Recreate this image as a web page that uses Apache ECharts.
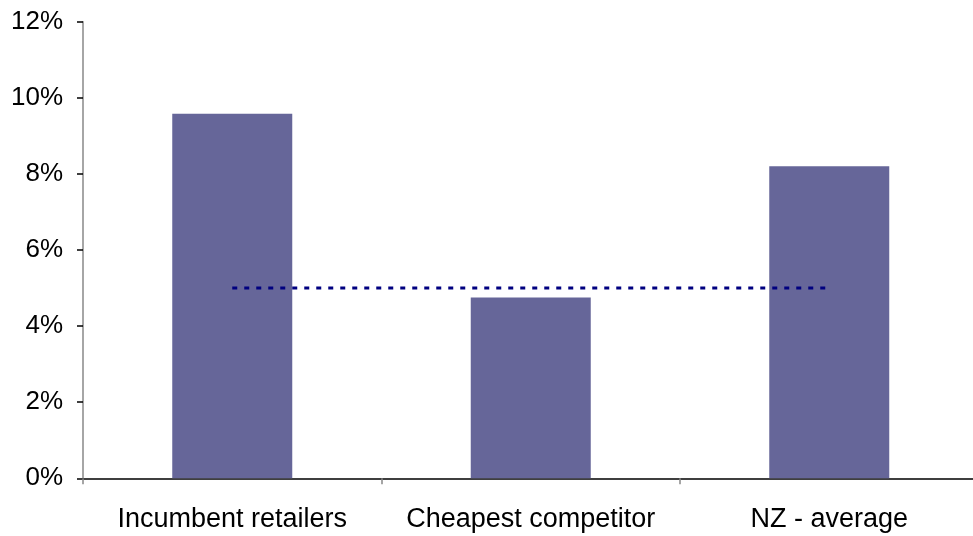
<!DOCTYPE html>
<html><head><meta charset="utf-8">
<script src="https://cdn.jsdelivr.net/npm/echarts@6/dist/echarts.min.js"></script>
<style>html,body{margin:0;padding:0;background:#fff;overflow:hidden}#c{width:979px;height:536px}</style>
</head><body><div id="c"></div>
<script>
var categories = ['Incumbent retailers', 'Cheapest competitor', 'NZ - average'];
var barValues = [9.58, 4.75, 8.2];
var avgLine = [5.0, 5.0, 5.0];
var yTicks = { min: 0, max: 12, interval: 2 };

var chart = echarts.init(document.getElementById('c'), null, { renderer: 'canvas' });
chart.setOption({
  animation: false,
  backgroundColor: '#fff',
  grid: { left: 83, right: 0.5, top: 21.7, bottom: 57.7, containLabel: false },
  xAxis: {
    type: 'category', data: categories,
    axisLine: { lineStyle: { color: '#000', width: 1.5 } },
    axisTick: { show: true, length: 6, inside: false, lineStyle: { color: '#888', width: 1.5 } },
    axisLabel: { color: '#000', fontFamily: 'Liberation Sans, Arial', fontSize: 27, margin: 28, interval: 0 },
    splitLine: { show: false }
  },
  yAxis: {
    type: 'value', min: yTicks.min, max: yTicks.max, interval: yTicks.interval,
    axisLine: { show: true, lineStyle: { color: '#888', width: 1.5 } },
    axisTick: { show: true, length: 6, lineStyle: { color: '#000', width: 1.5 } },
    axisLabel: { color: '#000', fontFamily: 'Liberation Sans, Arial', fontSize: 26, margin: 20, formatter: '{value}%' },
    splitLine: { show: false }
  },
  series: [
    { type: 'bar', data: barValues, barWidth: 120, itemStyle: { color: '#666699' } },
    { type: 'line', data: avgLine, symbol: 'none', z: 5,
      lineStyle: { color: '#000080', width: 3, type: [5, 7] } }
  ]
});
</script></body></html>
